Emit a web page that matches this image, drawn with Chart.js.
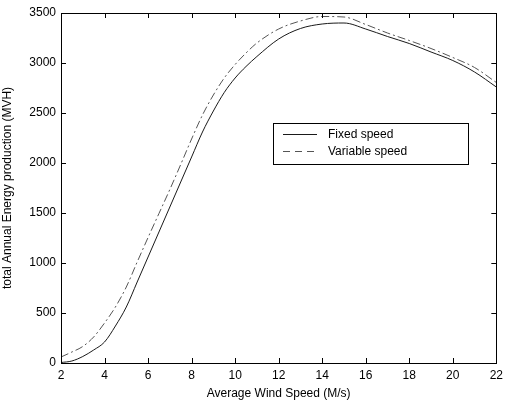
<!DOCTYPE html>
<html>
<head>
<meta charset="utf-8">
<script src="https://cdn.jsdelivr.net/npm/chart.js@4/dist/chart.umd.min.js"></script>
<style>
  html, body { margin:0; padding:0; background:#fff; }
  #wrap { width:508px; height:401px; position:relative; }
</style>
</head>
<body>
<div id="wrap"><canvas id="c"></canvas></div>
<script>
'use strict';

// ── data ──────────────────────────────────────────
const windSpeed = [2, 2.5, 3, 3.5, 4, 4.5, 5, 5.5, 6, 6.5, 7, 7.5, 8, 8.5, 9, 9.5, 10, 10.5, 11, 12, 13, 14, 15, 16, 17, 18, 19, 20, 21, 22];
const fixedSpeed = [5, 20, 65, 130, 210, 370, 560, 810, 1060, 1310, 1560, 1810, 2060, 2310, 2520, 2705, 2850, 2965, 3065, 3240, 3345, 3390, 3400, 3340, 3265, 3195, 3110, 3025, 2910, 2760];
const variableSpeed = [60, 110, 165, 260, 400, 560, 760, 1010, 1255, 1495, 1735, 1985, 2240, 2480, 2680, 2850, 2985, 3100, 3200, 3340, 3420, 3465, 3460, 3385, 3300, 3225, 3145, 3055, 2955, 2805];
const xTicks = [2, 4, 6, 8, 10, 12, 14, 16, 18, 20, 22];
const yTicks = [0, 500, 1000, 1500, 2000, 2500, 3000, 3500];

const FONT = 'Liberation Sans, Arial, sans-serif';
const pts = ys => windSpeed.map((x, i) => ({ x, y: ys[i] }));

// ── inward ticks on all four sides + frame ────────
const frame = {
  id: 'frame',
  afterDatasetsDraw(chart) {
    const { ctx, chartArea: a, scales: { x, y } } = chart;
    ctx.save();
    ctx.strokeStyle = '#000';
    ctx.lineWidth = 1;
    ctx.beginPath();
    x.ticks.forEach(t => {
      const px = Math.round(x.getPixelForValue(t.value)) + 0.5;
      ctx.moveTo(px, a.bottom); ctx.lineTo(px, a.bottom - 5);
      ctx.moveTo(px, a.top);    ctx.lineTo(px, a.top + 5);
    });
    y.ticks.forEach(t => {
      const py = Math.round(y.getPixelForValue(t.value)) + 0.5;
      ctx.moveTo(a.left, py);  ctx.lineTo(a.left + 5, py);
      ctx.moveTo(a.right, py); ctx.lineTo(a.right - 5, py);
    });
    ctx.stroke();
    ctx.strokeRect(Math.round(a.left) + 0.5, Math.round(a.top) + 0.5,
                   Math.round(a.right - a.left), Math.round(a.bottom - a.top));
    ctx.restore();
  }
};

// ── boxed legend inside the plot ──────────────────
const boxLegend = {
  id: 'boxLegend',
  afterDraw(chart) {
    const { ctx, chartArea: a } = chart;
    const bx = a.left + (a.right - a.left) * 0.487;
    const by = a.top + (a.bottom - a.top) * 0.314;
    const bw = 195, bh = 41;
    ctx.save();
    ctx.fillStyle = '#fff';
    ctx.fillRect(bx, by, bw, bh);
    ctx.strokeStyle = '#000';
    ctx.lineWidth = 1;
    ctx.strokeRect(Math.round(bx) + 0.5, Math.round(by) + 0.5, bw, bh);
    ctx.font = '12px ' + FONT;
    ctx.textBaseline = 'middle';
    chart.data.datasets.forEach((ds, i) => {
      const ly = Math.round(by + 11 + i * 17) + 0.5;
      ctx.strokeStyle = ds.borderColor;
      ctx.setLineDash(i === 0 ? [] : [7, 5]);
      ctx.beginPath();
      ctx.moveTo(bx + 10, ly); ctx.lineTo(bx + 44, ly);
      ctx.stroke();
      ctx.setLineDash([]);
      ctx.fillStyle = '#000';
      ctx.fillText(ds.label, bx + 55, ly);
    });
    ctx.restore();
  }
};

new Chart(document.getElementById('c'), {
  type: 'line',
  data: {
    datasets: [
      { label: 'Fixed speed', data: pts(fixedSpeed), borderColor: '#1a1a1a', borderWidth: 1,
        pointRadius: 0, cubicInterpolationMode: 'monotone', fill: false },
      { label: 'Variable speed', data: pts(variableSpeed), borderColor: '#555', borderWidth: 1,
        borderDash: [8, 3, 2, 3], pointRadius: 0, cubicInterpolationMode: 'monotone', fill: false }
    ]
  },
  options: {
    responsive: true, maintainAspectRatio: false, animation: false,
    layout: { padding: { top: 13, right: 4, left: 0, bottom: 0 } },
    plugins: { legend: { display: false }, tooltip: { enabled: false } },
    scales: {
      x: {
        type: 'linear', min: 2, max: 22,
        afterBuildTicks: s => { s.ticks = xTicks.map(v => ({ value: v })); },
        afterFit: s => { s.height = 38; },
        grid: { drawOnChartArea: false, drawTicks: false },
        border: { display: false },
        ticks: { color: '#000', font: { family: FONT, size: 12 }, padding: 5, maxRotation: 0,
                 callback: v => String(v) },
        title: { display: true, text: 'Average Wind Speed (M/s)', color: '#000',
                 font: { family: FONT, size: 12 }, padding: { top: 0, bottom: 0 } }
      },
      y: {
        min: 0, max: 3500,
        afterBuildTicks: s => { s.ticks = yTicks.map(v => ({ value: v })); },
        afterFit: s => { s.width = 61; },
        grid: { drawOnChartArea: false, drawTicks: false },
        border: { display: false },
        ticks: { color: '#000', font: { family: FONT, size: 12 }, padding: 5,
                 callback: v => String(v) },
        title: { display: true, text: 'total Annual Energy production (MVH)', color: '#000',
                 font: { family: FONT, size: 12 }, padding: { top: 0, bottom: 0 } }
      }
    }
  },
  plugins: [frame, boxLegend]
});
</script>
</body>
</html>
